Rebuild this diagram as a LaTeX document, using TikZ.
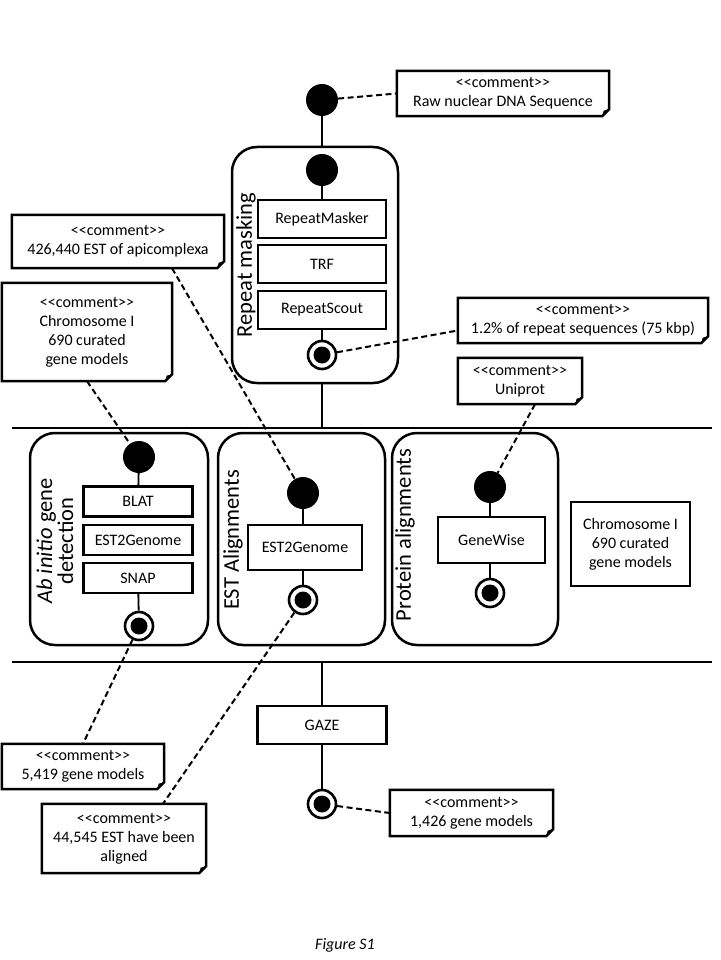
\documentclass[tikz,border=0pt]{standalone}
\usepackage{fontspec}
\setmainfont{Carlito}

\newcommand{\cmt}{<\kern0pt<comment>\kern0pt>}
\newcommand{\foldframe}[1]{%
\draw[line width=2.5pt] (#1.north west) -- (#1.north east) -- ([yshift=7pt]#1.south east) -- ([xshift=-7pt]#1.south east) -- (#1.south west) -- cycle;
\fill ([yshift=7pt]#1.south east) -- ([xshift=-7pt]#1.south east) -- ([xshift=-5.5pt,yshift=5.5pt]#1.south east) -- cycle;
}

\tikzset{
init/.style={circle,fill=black,minimum size=32pt,inner sep=0pt},
final/.style={circle,draw,fill=white,line width=2.6pt,minimum size=28pt,inner sep=0pt,
  path picture={\fill[black] (path picture bounding box.center) circle (8.5pt);}},
act/.style={draw,line width=2.3pt,minimum height=38pt,inner sep=0pt},
lane/.style={draw,line width=2.5pt,rounded corners=25pt,inner sep=0pt},
lanelabel/.style={rotate=90,align=center,font=\fontsize{22.5}{21}\selectfont},
note/.style={align=center,inner sep=0pt},
link/.style={line width=1.8pt},
anno/.style={line width=2pt,dash pattern=on 6pt off 3.5pt}
}

\begin{document}
\begin{tikzpicture}[x=1pt,y=-1pt,every node/.style={font=\fontsize{16}{19}\selectfont}]

\useasboundingbox (0,0) rectangle (720,960);

% Swimlane bars
\coordinate (bar1w) at (12,428);
\coordinate (bar1e) at (712,428);
\coordinate (bar2w) at (12,662);
\coordinate (bar2e) at (712,662);
\draw[line width=2.2pt] (bar1w) -- (bar1e);
\draw[line width=2.2pt] (bar2w) -- (bar2e);

% Repeat masking
\node[init] (s0) at (322,100) {};
\node[note,minimum width=212pt,minimum height=45pt] (n0) at (503,93.5) {\cmt\\Raw nuclear DNA Sequence};
\foldframe{n0}

\node[lane,minimum width=166pt,minimum height=236pt] (rm) at (315,265) {};
\node[lanelabel] (rmlabel) at (246,265) {Repeat masking};
\node[init] (rmstart) at (322,170) {};
\node[act,minimum width=128pt] (rmask) at (322,219) {RepeatMasker};
\node[act,minimum width=128pt] (trf) at (322,264) {TRF};
\node[act,minimum width=128pt] (rscout) at (322,310) {RepeatScout};
\node[final] (rmend) at (322,355) {};

\node[note,minimum width=250pt,minimum height=45pt] (n1) at (583,320.5) {\cmt\\1.2\% of repeat sequences (75 kbp)};
\foldframe{n1}

\draw[link] (s0) -- (s0 |- rm.north);
\draw[link] (rmstart) -- (rmask);
\draw[link] (rscout) -- (rmend);
\draw[link] (rmend |- rm.south) -- (rmend |- bar1w);
\draw[anno] (s0) -- (n0.west);
\draw[anno] (rmend) -- ([yshift=-10pt]n1.west);

% Ab initio gene detection
\node[lane,minimum width=178pt,minimum height=212pt] (abinit) at (119,539) {};
\node[lanelabel] (ablabel) at (55,541) {\textit{Ab initio} gene\\detection};
\node[init] (astart) at (139,457) {};
\node[act,minimum width=109pt,minimum height=30pt] (blat) at (138,501.5) {BLAT};
\node[act,minimum width=109pt,minimum height=30pt] (aest) at (138,540) {EST2Genome};
\node[act,minimum width=109pt,minimum height=30pt] (snap) at (138,578) {SNAP};
\node[final] (aend) at (139,626) {};
\draw[link] (astart) -- (blat);
\draw[link] (snap) -- (aend);

\node[note,minimum width=170pt,minimum height=98pt] (n4) at (87,332) {\cmt\\Chromosome I\\690 curated\\gene models};
\foldframe{n4}
\node[note,minimum width=162pt,minimum height=45pt] (n5) at (83,766.5) {\cmt\\5,419 gene models};
\foldframe{n5}
\draw[anno] (n4.south) -- (astart);
\draw[anno] (aend) -- (n5.north);

% EST alignments
\node[lane,minimum width=167pt,minimum height=212pt] (estal) at (301.5,539) {};
\node[lanelabel] (estlabel) at (233,540) {EST Alignments};
\node[init] (estart) at (303,493) {};
\node[act,minimum width=114pt,minimum height=45pt] (eest) at (305,547.5) {EST2Genome};
\node[final] (eend) at (303,600) {};
\draw[link] (estart) -- (estart |- eest.north);
\draw[link] (estart |- eest.south) -- (eend);

\node[note,minimum width=212pt,minimum height=53pt] (n3) at (118,241.5) {\cmt\\426,440 EST of apicomplexa};
\foldframe{n3}
\node[note,minimum width=164pt,minimum height=69pt] (n6) at (124,838.5) {\cmt\\44,545 EST have been\\aligned};
\foldframe{n6}
\draw[anno] ([xshift=54pt]n3.south) -- (estart);
\draw[anno] (eend) -- ([xshift=39pt]n6.north);

% Protein alignments
\node[lane,minimum width=166pt,minimum height=212pt] (protal) at (475,539) {};
\node[lanelabel] (protlabel) at (405,535) {Protein alignments};
\node[init] (pstart) at (490,487) {};
\node[act,minimum width=107pt,minimum height=46pt] (gwise) at (491.5,540) {GeneWise};
\node[final] (pend) at (490,593) {};
\draw[link] (pstart) -- (pstart |- gwise.north);
\draw[link] (pstart |- gwise.south) -- (pend);

\node[note,minimum width=124pt,minimum height=46pt] (n2) at (520,381) {\cmt\\Uniprot};
\foldframe{n2}
\draw[anno] ([xshift=15pt]n2.south) -- (pstart);

\node[draw,line width=2.3pt,align=center,minimum width=119pt,minimum height=84pt,inner sep=0pt] (chrom) at (630.5,544) {Chromosome I\\690 curated\\gene models};

% GAZE
\node[act,minimum width=129pt] (gaze) at (322,725) {GAZE};
\node[final] (gend) at (322,804) {};
\node[note,minimum width=163pt,minimum height=46pt] (n7) at (471.5,813) {\cmt\\1,426 gene models};
\foldframe{n7}
\draw[link] (gaze.north |- bar2w) -- (gaze.north);
\draw[link] (gaze) -- (gend);
\draw[anno] (gend) -- (n7.west);

\node (caption) at (345,945) {\textit{Figure S1}};

\end{tikzpicture}
\end{document}
